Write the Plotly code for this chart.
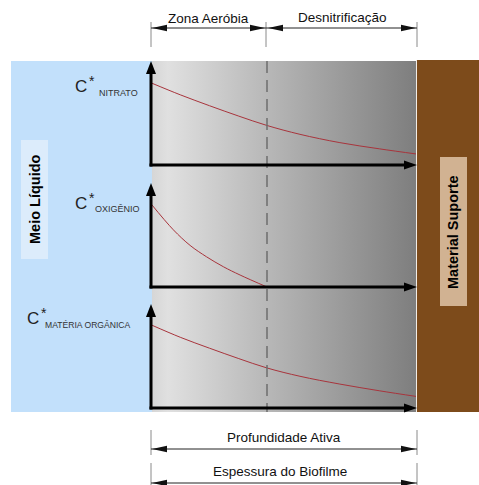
import plotly.graph_objects as go

# ---------------- data (normalised depth 0..1, normalised concentration 0..1) ----------------
depth_nitrato = [0, 0.11, 0.22, 0.33, 0.436, 0.56, 0.71, 0.86, 1.0]
c_nitrato = [0.79, 0.675, 0.57, 0.47, 0.38, 0.295, 0.215, 0.155, 0.105]

depth_oxigenio = [0, 0.084, 0.147, 0.209, 0.272, 0.335, 0.436]
c_oxigenio = [0.80, 0.55, 0.40, 0.29, 0.195, 0.115, 0.0]

depth_materia = [0, 0.11, 0.22, 0.33, 0.436, 0.56, 0.71, 0.86, 1.0]
c_materia = [0.80, 0.68, 0.575, 0.475, 0.385, 0.305, 0.23, 0.165, 0.11]

zone_labels = ["Zona Aeróbia", "Desnitrificação"]
bottom_labels = ["Profundidade Ativa", "Espessura do Biofilme"]
species_labels = ["NITRATO", "OXIGÊNIO", "MATÉRIA ORGÂNICA"]
side_labels = ["Meio Líquido", "Material Suporte"]

W, H = 479, 485
X0, X1 = 151, 417           # biofilm left / right (pixel layout)
XDASH = 267                 # boundary between zones
panels = [(61, 165), (183, 287), (304, 408)]   # (value 1 row, baseline row)

BLUE = "#c2e0fb"
BROWN = "#7d4b1b"
CURVE = "#a8343c"

fig = go.Figure()

# gradient biofilm region (main pixel axes)
fig.add_trace(go.Scatter(
    x=[152, 416, 416, 152, 152], y=[61, 61, 412, 412, 61],
    mode="lines", line=dict(width=0), fill="toself",
    fillgradient=dict(type="horizontal",
                      colorscale=[[0, "#d6d6d6"], [0.06, "#e0e0e0"], [0.45, "#b6b6b6"], [1, "#7e7e7e"]]),
    hoverinfo="skip", showlegend=False, xaxis="x", yaxis="y"))

# curves on their own small axes
series = [(depth_nitrato, c_nitrato), (depth_oxigenio, c_oxigenio), (depth_materia, c_materia)]
for i, (d, c) in enumerate(series):
    k = i + 2
    fig.add_trace(go.Scatter(x=d, y=c, mode="lines",
                             line=dict(color=CURVE, width=1, shape="spline", smoothing=1.0),
                             hoverinfo="skip", showlegend=False, xaxis=f"x{k}", yaxis=f"y{k}",
                             cliponaxis=False))

layout_axes = dict(
    xaxis=dict(domain=[0, 1], range=[0, W], visible=False, fixedrange=True),
    yaxis=dict(domain=[0, 1], range=[H, 0], visible=False, fixedrange=True),
)
for i, (top, base) in enumerate(panels):
    k = i + 2
    layout_axes[f"xaxis{k}"] = dict(domain=[X0 / W, X1 / W], range=[0, 1], visible=False,
                                    anchor=f"y{k}", fixedrange=True)
    layout_axes[f"yaxis{k}"] = dict(domain=[1 - base / H, 1 - top / H], range=[0, 1], visible=False,
                                    anchor=f"x{k}", fixedrange=True)

shapes = []


def rect(x0, y0, x1, y1, color, layer="below"):
    shapes.append(dict(type="rect", xref="x", yref="y", x0=x0, y0=y0, x1=x1, y1=y1,
                       fillcolor=color, line=dict(width=0), layer=layer))


def line(x0, y0, x1, y1, color, width, dash="solid", layer="above"):
    shapes.append(dict(type="line", xref="x", yref="y", x0=x0, y0=y0, x1=x1, y1=y1,
                       line=dict(color=color, width=width, dash=dash), layer=layer))


def tri(tx, ty, dx, dy, length, half, color):
    bx, by = tx - dx * length, ty - dy * length
    px, py = -dy, dx
    path = (f"M{tx},{ty} L{bx + px * half},{by + py * half} "
            f"L{bx - px * half},{by - py * half} Z")
    shapes.append(dict(type="path", xref="x", yref="y", path=path, fillcolor=color,
                       line=dict(width=0), layer="above"))


# backgrounds
rect(11, 61, 152, 412, BLUE)
rect(417, 60, W, 412, BROWN)
line(416.5, 60, 416.5, 412, "#f2ece6", 1, layer="above")
rect(21, 140, 48, 259, "#dcecfb")
rect(440, 157, 467, 306, "#d1b292")

# dashed zone boundary
line(XDASH, 61, XDASH, 412, "#6e6e6e", 1.5, dash="12px,7px")

# axes with arrows for each panel
for top, base in panels:
    line(X0, base + 1.5, X0, top + 11, "#000000", 3)
    tri(X0, top, 0, -1, 13, 5, "#000000")
    line(X0 - 1.5, base, X1 - 11, base, "#000000", 3)
    tri(X1, base, 1, 0, 13, 4.5, "#000000")

# dimension lines (top)
for x in (X0, 266, X1):
    line(x, 22, x, 47, "#8a8a8a", 1)
line(X0, 28, 266, 28, "#222222", 1)
tri(X0 + 1, 28, -1, 0, 15, 3.2, "#111111")
tri(265, 28, 1, 0, 15, 3.2, "#111111")
line(266, 28, X1, 28, "#222222", 1)
tri(268, 28, -1, 0, 15, 3.2, "#111111")
tri(X1 - 1, 28, 1, 0, 15, 3.2, "#111111")

# dimension lines (bottom)
for ylin, yt0, yt1 in ((449, 430, 455), (483, 463, 485)):
    for x in (X0, X1):
        line(x, yt0, x, yt1, "#8a8a8a", 1)
    line(X0, ylin, X1, ylin, "#222222", 1)
    tri(X0 + 1, ylin, -1, 0, 15, 3.2, "#111111")
    tri(X1 - 1, ylin, 1, 0, 15, 3.2, "#111111")

FONT = "Liberation Sans, Arial, sans-serif"
ann = []


def text(x, y, s, size, color="#111111", xanchor="center", angle=0, bold=False):
    if bold:
        s = f"<b>{s}</b>"
    ann.append(dict(x=x, y=y, xref="x", yref="y", text=s, showarrow=False, xanchor=xanchor,
                    yanchor="middle", textangle=angle, font=dict(family=FONT, size=size, color=color)))


text(208, 18, zone_labels[0], 13.5)
text(342, 17, zone_labels[1], 13.5)
text(284, 437, bottom_labels[0], 13.5)
text(280, 471, bottom_labels[1], 13.5)
text(35, 199, side_labels[0], 14.5, color="#000000", angle=-90, bold=True)
text(453, 232, side_labels[1], 14.5, color="#000000", angle=-90, bold=True)

# C* labels
c_pos = [(73, 86, 97, 92.5), (73, 203, 93, 209), (25, 318, 43, 325)]
for (cx, cy, sx, sy), lab in zip(c_pos, species_labels):
    text(cx, cy, "C", 17, color="#222222", xanchor="left")
    text(cx + 13.5, cy - 5, "*", 14, color="#222222", xanchor="left")
    text(sx, sy, lab, 9 if len(lab) < 10 else 8.6, color="#333333", xanchor="left")

fig.update_layout(
    width=W, height=H, margin=dict(l=0, r=0, t=0, b=0),
    paper_bgcolor="#ffffff", plot_bgcolor="rgba(0,0,0,0)",
    shapes=shapes, annotations=ann, showlegend=False, **layout_axes)

fig.write_html("out.html", config={"displayModeBar": False},
               post_script="document.body.style.margin='0';document.body.style.overflow='hidden';")
